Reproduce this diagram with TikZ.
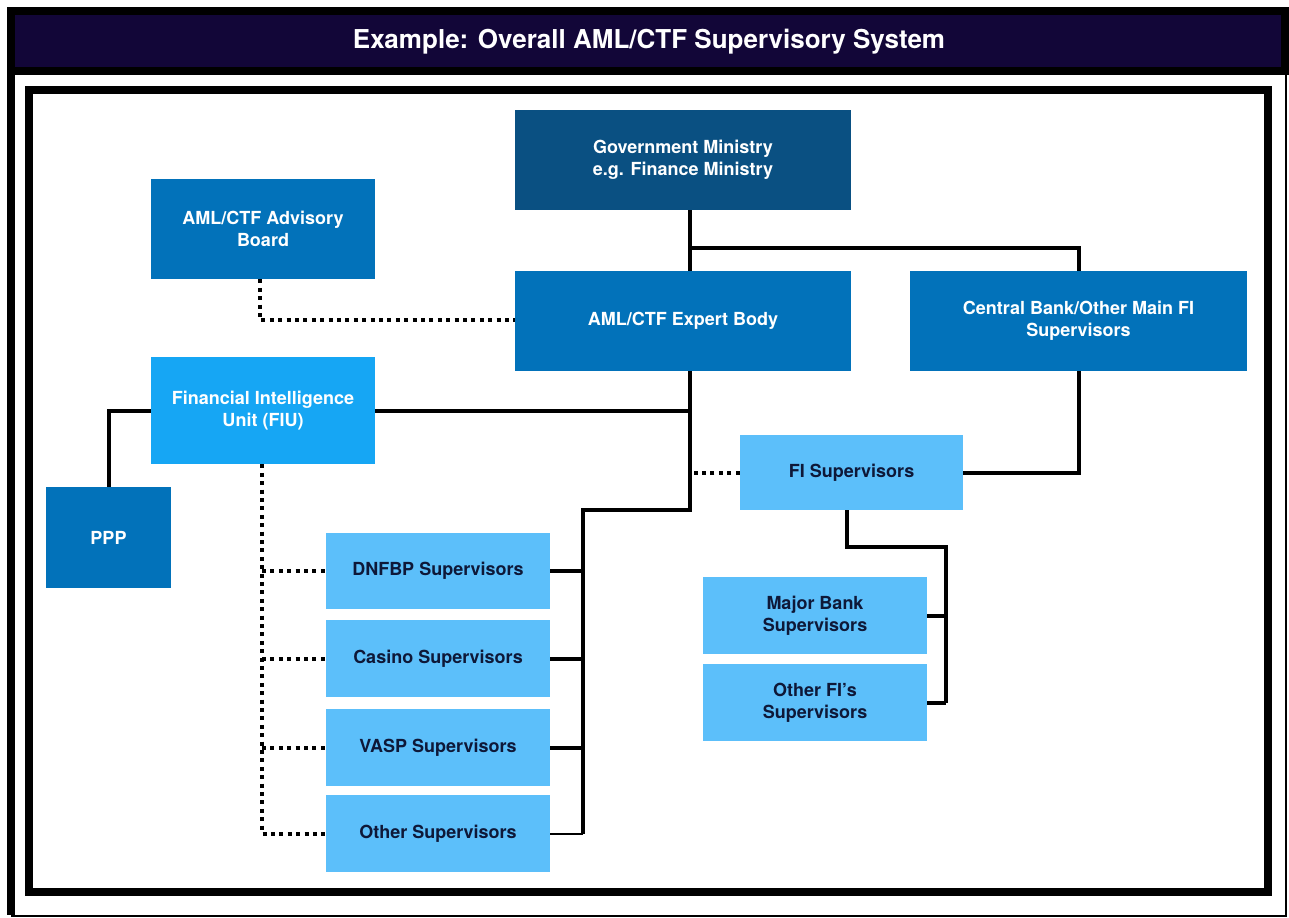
\documentclass[tikz,border=0pt]{standalone}
\usepackage{fontspec}
\setmainfont{TeX Gyre Heros}
\usetikzlibrary{positioning,calc}
\definecolor{titlenavy}{RGB}{18,6,56}
\definecolor{govblue}{RGB}{10,80,130}
\definecolor{midblue}{RGB}{2,114,186}
\definecolor{fiublue}{RGB}{22,166,244}
\definecolor{lightblue}{RGB}{92,191,250}
\definecolor{textnavy}{RGB}{14,24,56}

\begin{document}
\begin{tikzpicture}[x=0.5pt,y=-0.5pt,
    box/.style={inner sep=0pt,align=center,font=\bfseries\fontsize{9}{11}\selectfont},
    sz/.style 2 args={minimum width=0.5pt*#1,minimum height=0.5pt*#2},
    govbox/.style={box,fill=govblue,text=white},
    midbox/.style={box,fill=midblue,text=white},
    fiubox/.style={box,fill=fiublue,text=white},
    lightbox/.style={box,fill=lightblue,text=textnavy},
    link/.style={line width=2pt},
    dotlink/.style={line width=2pt,dash pattern=on 2pt off 2.2pt}]
  \useasboundingbox (0,0) rectangle (1289,917);
  % frames
  \draw[line width=4pt,fill=titlenavy] (11,11) rectangle (1285,71);
  \draw[line width=4pt] (11,71) -- (11,915);
  \draw[line width=1pt] (1286,71) -- (1286,916) -- (11,916);
  \draw[line width=4pt] (29,90) rectangle (1268,892);
  \node[font=\bfseries\fontsize{13}{15}\selectfont,text=white] (title) at (649,42)
    {Example: Overall AML/CTF Supervisory System};
  % boxes
  \node[govbox,sz={336}{100}] (gov) at (683,160) {Government Ministry\\e.g. Finance Ministry};
  \node[midbox,sz={224}{100}] (adv) at (263,229) {AML/CTF Advisory\\Board};
  \node[midbox,sz={336}{100}] (expert) at (683,321) {AML/CTF Expert Body};
  \node[midbox,sz={337}{100}] (cb) at (1078.5,321) {Central Bank/Other Main FI\\Supervisors};
  \node[fiubox,sz={224}{107}] (fiu) at (263,410.5) {Financial Intelligence\\Unit (FIU)};
  \node[midbox,sz={125}{101}] (ppp) at (108.5,537.5) {PPP};
  \node[lightbox,sz={223}{75}] (fis) at (851.5,472.5) {FI Supervisors};
  \node[lightbox,sz={224}{76}] (dnfbp) at (438,571) {DNFBP Supervisors};
  \node[lightbox,sz={224}{77}] (casino) at (438,658.5) {Casino Supervisors};
  \node[lightbox,sz={224}{77}] (vasp) at (438,747.5) {VASP Supervisors};
  \node[lightbox,sz={224}{77}] (other) at (438,833.5) {Other Supervisors};
  \node[lightbox,sz={224}{77}] (major) at (815,615.5) {Major Bank\\Supervisors};
  \node[lightbox,sz={224}{77}] (otherfi) at (815,702.5) {Other FI's\\Supervisors};
  % solid links
  \coordinate (govj) at (690,248);
  \coordinate (spine) at (690,510);
  \coordinate (bus) at (583,510);
  \draw[link] (gov.south -| govj) -- (expert.north -| govj);
  \draw[link] (govj) -| (cb.north);
  \draw[link] (expert.south -| govj) -- (spine) -| (bus) -- (bus |- other.east);
  \draw[link] (fiu.east) -- (fiu.east -| govj);
  \draw[link] (fiu.west) -| (ppp.north);
  \foreach \n in {dnfbp,casino,vasp}
    \draw[link] (\n.east) -- (\n.east -| bus);
  \draw[line width=1pt] (other.east) -- (other.east -| bus);
  \draw[link] (cb.south) |- (fis.east);
  \coordinate (fisj) at (847,547);
  \coordinate (fibus) at (946,547);
  \draw[link] (fis.south -| fisj) -- (fisj) -- (fibus) -- (fibus |- otherfi.east);
  \foreach \n in {major,otherfi}
    \draw[link] (\n.east) -- (\n.east -| fibus);
  % dotted links
  \coordinate (advj) at (260,320);
  \draw[dotlink] (adv.south -| advj) -- (advj) -- (advj -| expert.west);
  \draw[dotlink] (fis.west) -- (fis.west -| govj);
  \coordinate (fiuj) at (262,833.5);
  \draw[dotlink] (fiu.south -| fiuj) -- (fiuj) -- (other.west);
  \foreach \n in {dnfbp,casino,vasp}
    \draw[dotlink] (\n.west -| fiuj) -- (\n.west);
\end{tikzpicture}
\end{document}
